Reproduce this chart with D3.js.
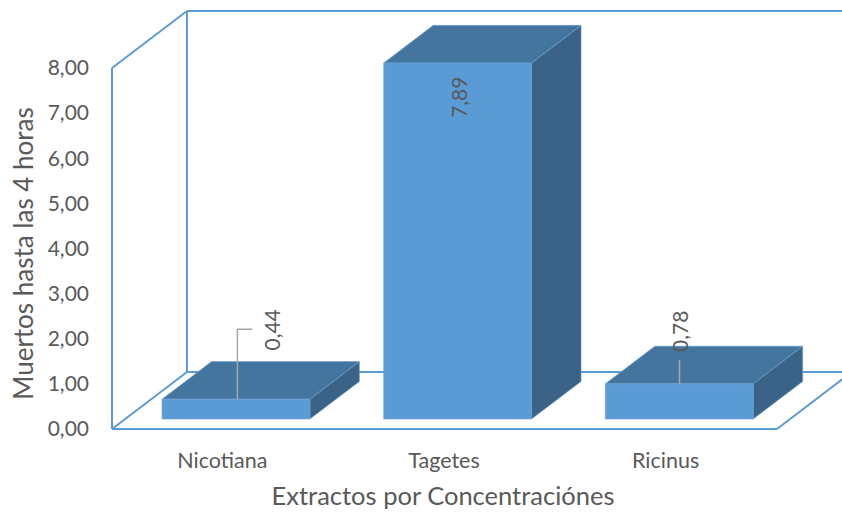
<!DOCTYPE html>
<html>
<head>
<meta charset="utf-8">
<script src="https://cdn.jsdelivr.net/npm/d3@7/dist/d3.min.js"></script>
<style>
  html, body { margin: 0; padding: 0; background: #fff; }
  svg { display: block; font-family: Lato, "Open Sans", sans-serif; }
</style>
</head>
<body>
<svg id="chart" width="842" height="512"></svg>
<script>
// Chart data
const categories = ["Nicotiana", "Tagetes", "Ricinus"];
const values = [0.44, 7.89, 0.78];
const tickValues = [0, 1, 2, 3, 4, 5, 6, 7, 8];
const yTitle = "Muertos hasta las 4 horas";
const xTitle = "Extractos por Concentraciónes";

const fmt = v => d3.format(".2f")(v).replace(".", ",");

const svg = d3.select("#chart");

// Front plane of the 3D box
const x = d3.scaleBand().domain(categories).range([112, 777])
  .paddingInner(0.333).paddingOuter(0.1667);
const y = d3.scaleLinear().domain([0, 8]).range([429, 68]);

// Depth vector (front plane -> back wall)
const DX = 75, DY = -57;
const barNear = 0.175, barFar = 0.835;

const wallColor = "#5b9bd5";
const textColor = "#595959";

// Walls and floor outline
const x0 = x.range()[0], x1 = x.range()[1];
const y0 = y(0), yTop = y(8);
const wall = svg.append("g").attr("fill", "none").attr("stroke", wallColor).attr("stroke-width", 2);
const seg = (a, b) => wall.append("path").attr("d", d3.line()([a, b]));
// side wall
seg([x0, yTop], [x0, y0]);
seg([x0, yTop], [x0 + DX, yTop + DY]);
seg([x0, y0], [x0 + DX, y0 + DY]);
// back wall
seg([x0 + DX, yTop + DY], [x0 + DX, y0 + DY]);
seg([x0 + DX, yTop + DY], [x1 + DX, yTop + DY]);
seg([x0 + DX, y0 + DY], [x1 + DX, y0 + DY]);
// floor front edge and right edge
seg([x0, y0], [x1, y0]);
seg([x1, y0], [x1 + DX, y0 + DY]);

// Bars
const bars = svg.append("g");
const poly = pts => "M" + pts.map(p => p.join(",")).join("L") + "Z";
values.forEach((v, i) => {
  const c = categories[i];
  const fx = x(c) + DX * barNear, fy0 = y(0) + DY * barNear, fyT = y(v) + DY * barNear;
  const w = x.bandwidth();
  const ddx = DX * (barFar - barNear), ddy = DY * (barFar - barNear);
  const g = bars.append("g").attr("stroke", "#6a9fcf").attr("stroke-width", 0.6).attr("stroke-linejoin", "round");
  // right side
  g.append("path").attr("fill", "#3a6387")
    .attr("d", poly([[fx + w, fyT], [fx + w + ddx, fyT + ddy], [fx + w + ddx, fy0 + ddy], [fx + w, fy0]]));
  // top
  g.append("path").attr("fill", "#44759f")
    .attr("d", poly([[fx, fyT], [fx + ddx, fyT + ddy], [fx + w + ddx, fyT + ddy], [fx + w, fyT]]));
  // front
  g.append("path").attr("fill", "#5b9bd5")
    .attr("d", poly([[fx, fyT], [fx + w, fyT], [fx + w, fy0], [fx, fy0]]));
});

// Value labels with leader lines (offsets relative to the front top edge centre)
const labelOffsets = [[36.4, -69.3, true], [2.5, 34.2, false], [1.5, -52.6, true]];
const lab = svg.append("g");
values.forEach((v, i) => {
  const c = categories[i];
  const cx = x(c) + DX * barNear + x.bandwidth() / 2;
  const cy = y(v) + DY * barNear;
  const [ox, oy, leader] = labelOffsets[i];
  const lx = cx + ox, ly = cy + oy;
  if (leader) {
    const pts = ox > 10
      ? [[cx + 1.4, cy], [cx + 1.4, ly - 0.7], [lx - 20, ly - 0.7]]
      : [[cx + 0.2, cy], [cx + 0.2, cy - 23.6]];
    lab.append("path").attr("d", d3.line()(pts))
      .attr("fill", "none").attr("stroke", "#a6a6a6").attr("stroke-width", 1.5);
  }
  lab.append("text")
    .attr("transform", `translate(${lx},${ly}) rotate(-90)`)
    .attr("text-anchor", "middle").attr("dy", "0.35em")
    .attr("fill", textColor).attr("font-size", 21)
    .text(fmt(v));
});

// Value axis tick labels (front plane)
svg.append("g").selectAll("text").data(tickValues).join("text")
  .attr("x", 89).attr("y", d => y(d)).attr("dy", "0.35em")
  .attr("text-anchor", "end").attr("fill", textColor).attr("font-size", 21)
  .text(fmt);

// Category labels along the floor front edge
svg.append("g").selectAll("text").data(categories).join("text")
  .attr("x", d => x(d) + x.bandwidth() / 2 - 0.5).attr("y", 468)
  .attr("text-anchor", "middle").attr("fill", textColor).attr("font-size", 21.5)
  .text(d => d);

// Axis titles
svg.append("text")
  .attr("transform", "translate(24,253.5) rotate(-90)")
  .attr("text-anchor", "middle").attr("dy", "0.35em")
  .attr("fill", textColor).attr("font-size", 26)
  .text(yTitle);

svg.append("text")
  .attr("x", 443).attr("y", 505)
  .attr("text-anchor", "middle").attr("fill", textColor).attr("font-size", 25.5)
  .text(xTitle);
</script>
</body>
</html>
